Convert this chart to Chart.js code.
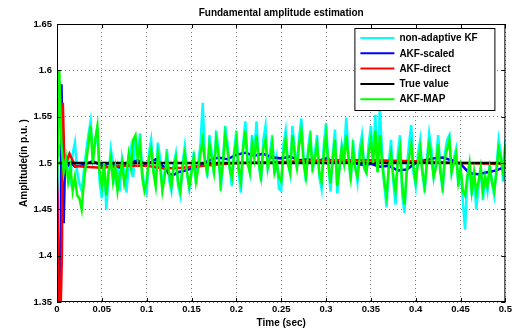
<!DOCTYPE html>
<html>
<head>
<meta charset="utf-8">
<title>Fundamental amplitude estimation</title>
<script src="https://cdn.jsdelivr.net/npm/chart.js@4.4.0/dist/chart.umd.min.js"></script>
<style>
    html, body { margin: 0; padding: 0; background: #fff; }
    #wrap { width: 514px; height: 329px; position: relative; }
</style>
</head>
<body>
<div id="wrap"><canvas id="ampChart"></canvas></div>
<script>
// sample clock of the noisy estimators (2.5 ms)
const sampleStep = 0.0025;

const nonAdaptiveKF = [
    1.505, 1.515, 1.500, 1.510, 1.495, 1.505, 1.485, 1.510, 1.522, 1.490,
    1.478, 1.470, 1.492, 1.512, 1.530, 1.545, 1.505, 1.520, 1.538, 1.480,
    1.462, 1.500, 1.450, 1.488, 1.515, 1.500, 1.482, 1.495, 1.470, 1.505,
    1.490, 1.468, 1.498, 1.515, 1.485, 1.528, 1.505, 1.532, 1.492, 1.475,
    1.468, 1.510, 1.525, 1.495, 1.480, 1.522, 1.505, 1.474, 1.490, 1.515,
    1.482, 1.470, 1.498, 1.510, 1.476, 1.465, 1.500, 1.518, 1.488, 1.472,
    1.490, 1.512, 1.478, 1.500, 1.520, 1.565, 1.505, 1.485, 1.530, 1.510,
    1.488, 1.535, 1.515, 1.470, 1.500, 1.540, 1.522, 1.495, 1.475, 1.512,
    1.535, 1.490, 1.468, 1.520, 1.545, 1.505, 1.490, 1.530, 1.512, 1.545,
    1.500, 1.480, 1.525, 1.540, 1.495, 1.510, 1.530, 1.488, 1.505, 1.472,
    1.470, 1.520, 1.535, 1.500, 1.488, 1.540, 1.515, 1.495, 1.528, 1.548,
    1.505, 1.480, 1.515, 1.535, 1.490, 1.510, 1.530, 1.485, 1.472, 1.520,
    1.543, 1.500, 1.469, 1.510, 1.536, 1.467, 1.495, 1.520, 1.505, 1.549,
    1.510, 1.480, 1.525, 1.498, 1.480, 1.515, 1.530, 1.495, 1.489, 1.520,
    1.540, 1.505, 1.552, 1.490, 1.560, 1.510, 1.475, 1.452, 1.500, 1.525,
    1.480, 1.455, 1.510, 1.530, 1.465, 1.446, 1.495, 1.520, 1.541, 1.490,
    1.475, 1.510, 1.525, 1.490, 1.468, 1.505, 1.532, 1.515, 1.485, 1.500,
    1.530, 1.495, 1.468, 1.510, 1.525, 1.530, 1.490, 1.505, 1.515, 1.475,
    1.495, 1.460, 1.428, 1.480, 1.500, 1.465, 1.490, 1.450, 1.475, 1.495,
    1.460, 1.485, 1.470, 1.500, 1.478, 1.465, 1.495, 1.525, 1.510, 1.480,
    1.525
];

const akfMap = [
    1.470, 1.600, 1.520, 1.490, 1.505, 1.480, 1.495, 1.470, 1.485, 1.465,
    1.462, 1.450, 1.480, 1.500, 1.520, 1.540, 1.500, 1.525, 1.540, 1.490,
    1.475, 1.500, 1.465, 1.490, 1.505, 1.480, 1.495, 1.470, 1.488, 1.500,
    1.478, 1.490, 1.510, 1.495, 1.525, 1.530, 1.505, 1.520, 1.485, 1.470,
    1.480, 1.505, 1.515, 1.490, 1.475, 1.510, 1.495, 1.470, 1.485, 1.505,
    1.490, 1.475, 1.495, 1.505, 1.480, 1.470, 1.495, 1.510, 1.490, 1.475,
    1.490, 1.505, 1.480, 1.495, 1.510, 1.525, 1.500, 1.490, 1.520, 1.505,
    1.490, 1.525, 1.510, 1.480, 1.500, 1.530, 1.515, 1.495, 1.485, 1.510,
    1.525, 1.495, 1.480, 1.515, 1.535, 1.500, 1.490, 1.520, 1.505, 1.530,
    1.500, 1.485, 1.515, 1.525, 1.495, 1.505, 1.520, 1.490, 1.500, 1.485,
    1.480, 1.510, 1.525, 1.500, 1.490, 1.530, 1.510, 1.495, 1.520, 1.535,
    1.500, 1.485, 1.510, 1.525, 1.495, 1.505, 1.520, 1.490, 1.480, 1.510,
    1.530, 1.500, 1.478, 1.505, 1.525, 1.475, 1.495, 1.515, 1.500, 1.530,
    1.505, 1.485, 1.515, 1.495, 1.485, 1.505, 1.520, 1.495, 1.490, 1.510,
    1.525, 1.500, 1.535, 1.490, 1.530, 1.500, 1.480, 1.465, 1.495, 1.510,
    1.485, 1.470, 1.500, 1.515, 1.475, 1.455, 1.490, 1.505, 1.520, 1.495,
    1.480, 1.500, 1.515, 1.490, 1.475, 1.500, 1.520, 1.505, 1.485, 1.495,
    1.520, 1.490, 1.475, 1.505, 1.515, 1.525, 1.490, 1.500, 1.510, 1.480,
    1.495, 1.470, 1.465, 1.485, 1.500, 1.470, 1.490, 1.468, 1.480, 1.495,
    1.470, 1.485, 1.475, 1.495, 1.480, 1.470, 1.490, 1.515, 1.505, 1.490,
    1.520
];

const scaledTime = [
    0, 0.0025, 0.004, 0.005, 0.0075, 0.009, 0.012, 0.016, 0.02, 0.03,
    0.04, 0.05, 0.06, 0.07, 0.08, 0.09, 0.1, 0.11, 0.12, 0.125,
    0.13, 0.135, 0.14, 0.15, 0.16, 0.17, 0.18, 0.19, 0.2, 0.21,
    0.22, 0.23, 0.24, 0.25, 0.26, 0.27, 0.28, 0.29, 0.3, 0.31,
    0.32, 0.33, 0.34, 0.35, 0.36, 0.37, 0.38, 0.39, 0.4, 0.41,
    0.42, 0.43, 0.44, 0.45, 0.455, 0.46, 0.47, 0.48, 0.49, 0.5
];
const akfScaled = [
    1.500, 1.300, 1.385, 1.585, 1.435, 1.505, 1.497, 1.500, 1.496, 1.498,
    1.502, 1.497, 1.500, 1.495, 1.499, 1.503, 1.498, 1.504, 1.495, 1.488,
    1.487, 1.490, 1.491, 1.494, 1.497, 1.503, 1.506, 1.504, 1.509, 1.511,
    1.508, 1.510, 1.506, 1.505, 1.507, 1.503, 1.504, 1.502, 1.505, 1.501,
    1.503, 1.500, 1.498, 1.499, 1.496, 1.497, 1.492, 1.493, 1.500, 1.503,
    1.505, 1.506, 1.503, 1.499, 1.494, 1.489, 1.488, 1.490, 1.492, 1.496
];

const directTime = [
    0, 0.003, 0.0055, 0.0065, 0.008, 0.01, 0.014, 0.02, 0.03, 0.05,
    0.07, 0.1, 0.12, 0.14, 0.15, 0.2, 0.25, 0.3, 0.35, 0.4,
    0.45, 0.5
];
const akfDirect = [
    1.480, 1.300, 1.400, 1.565, 1.510, 1.500, 1.510, 1.497, 1.496, 1.495,
    1.497, 1.497, 1.494, 1.495, 1.496, 1.500, 1.501, 1.503, 1.503, 1.502,
    1.500, 1.499
];

const trueTime = [0, 0.5];
const trueValue = [1.5, 1.5];

const seriesNames = ['non-adaptive KF', 'AKF-scaled', 'AKF-direct', 'True value', 'AKF-MAP'];
const seriesColors = ['#00ffff', '#0000ff', '#ff0000', '#000000', '#00ff00'];

const xTickLabels = [0, 0.05, 0.1, 0.15, 0.2, 0.25, 0.3, 0.35, 0.4, 0.45, 0.5];
const yTickLabels = [1.35, 1.4, 1.45, 1.5, 1.55, 1.6, 1.65];

const FONT = '"Liberation Sans", Arial, sans-serif';

function zip(xs, ys) {
    return ys.map((y, i) => ({ x: xs[i], y: y }));
}
function sampled(ys) {
    return ys.map((y, i) => ({ x: +(i * sampleStep).toFixed(4), y: y }));
}

// MATLAB style axes box with inward ticks, plus the legend inside the axes
const boxPlugin = {
    id: 'boxPlugin',
    afterDraw(chart) {
        const { ctx, chartArea: a, scales } = chart;
        ctx.save();
        ctx.strokeStyle = '#000';
        ctx.lineWidth = 1;
        ctx.strokeRect(a.left + 0.5, a.top + 0.5, a.right - a.left - 1, a.bottom - a.top - 1);
        ctx.beginPath();
        xTickLabels.forEach(v => {
            const px = Math.round(scales.x.getPixelForValue(v)) + 0.5;
            ctx.moveTo(px, a.bottom); ctx.lineTo(px, a.bottom - 4);
            ctx.moveTo(px, a.top); ctx.lineTo(px, a.top + 4);
        });
        yTickLabels.forEach(v => {
            const py = Math.round(scales.y.getPixelForValue(v)) + 0.5;
            ctx.moveTo(a.left, py); ctx.lineTo(a.left + 4, py);
            ctx.moveTo(a.right, py); ctx.lineTo(a.right - 4, py);
        });
        ctx.stroke();

        const w = 140, h = 82;
        const lx = a.right - 11 - w, ly = a.top + 4;
        ctx.fillStyle = '#fff';
        ctx.fillRect(lx, ly, w, h);
        ctx.strokeRect(lx + 0.5, ly + 0.5, w, h);
        ctx.font = 'bold 10px ' + FONT;
        ctx.textBaseline = 'middle';
        chart.data.datasets.forEach((ds, i) => {
            const y = ly + 10 + i * 15.3;
            ctx.strokeStyle = ds.borderColor;
            ctx.lineWidth = 2;
            ctx.beginPath();
            ctx.moveTo(lx + 6, y); ctx.lineTo(lx + 40, y);
            ctx.stroke();
            ctx.fillStyle = '#000';
            ctx.fillText(ds.label, lx + 45, y + 0.5);
        });
        ctx.restore();
    }
};

const lineDataset = (i, data, width, order) => ({
    label: seriesNames[i],
    data: data,
    borderColor: seriesColors[i],
    backgroundColor: seriesColors[i],
    borderWidth: width,
    pointRadius: 0,
    tension: 0,
    order: order
});

const ctx = document.getElementById('ampChart').getContext('2d');
const ampChart = new Chart(ctx, {
    type: 'line',
    data: {
        datasets: [
            lineDataset(0, sampled(nonAdaptiveKF), 2.5, 5),
            lineDataset(1, zip(scaledTime, akfScaled), 2.5, 4),
            lineDataset(2, zip(directTime, akfDirect), 2.5, 3),
            lineDataset(3, zip(trueTime, trueValue), 2.5, 2),
            lineDataset(4, sampled(akfMap), 2.5, 1)
        ]
    },
    options: {
        responsive: true,
        maintainAspectRatio: false,
        animation: false,
        layout: { padding: { top: 0, right: 6, bottom: 0, left: 0 } },
        plugins: {
            legend: { display: false },
            tooltip: { enabled: false },
            title: {
                display: true,
                fullSize: false,
                text: 'Fundamental amplitude estimation',
                color: '#000',
                font: { family: FONT, size: 10, weight: 'bold' },
                padding: { top: 7, bottom: 5 }
            }
        },
        scales: {
            x: {
                type: 'linear',
                min: 0,
                max: 0.5,
                afterFit: (s) => { s.height = 27; },
                afterBuildTicks: (s) => { s.ticks = xTickLabels.map(v => ({ value: v })); },
                ticks: {
                    color: '#000',
                    font: { family: FONT, size: 9.5, weight: 'bold' },
                    padding: 2,
                    maxRotation: 0,
                    callback: (v) => String(+(+v).toFixed(2))
                },
                grid: { color: 'rgba(0,0,0,0.5)', drawTicks: false },
                border: { display: false, dash: [1, 3] },
                title: {
                    display: true,
                    text: 'Time (sec)',
                    color: '#000',
                    font: { family: FONT, size: 10, weight: 'bold' },
                    padding: { top: 1, bottom: 0 }
                }
            },
            y: {
                min: 1.35,
                max: 1.65,
                afterFit: (s) => { s.width = 57; },
                afterBuildTicks: (s) => { s.ticks = yTickLabels.map(v => ({ value: v })); },
                ticks: {
                    color: '#000',
                    font: { family: FONT, size: 9.5, weight: 'bold' },
                    padding: 5,
                    callback: (v) => String(+(+v).toFixed(2))
                },
                grid: { color: 'rgba(0,0,0,0.5)', drawTicks: false },
                border: { display: false, dash: [1, 3] },
                title: {
                    display: true,
                    text: 'Amplitude(in p.u. )',
                    color: '#000',
                    font: { family: FONT, size: 10, weight: 'bold' },
                    padding: { top: 18, bottom: 0 }
                }
            }
        }
    },
    plugins: [boxPlugin]
});
</script>
</body>
</html>
